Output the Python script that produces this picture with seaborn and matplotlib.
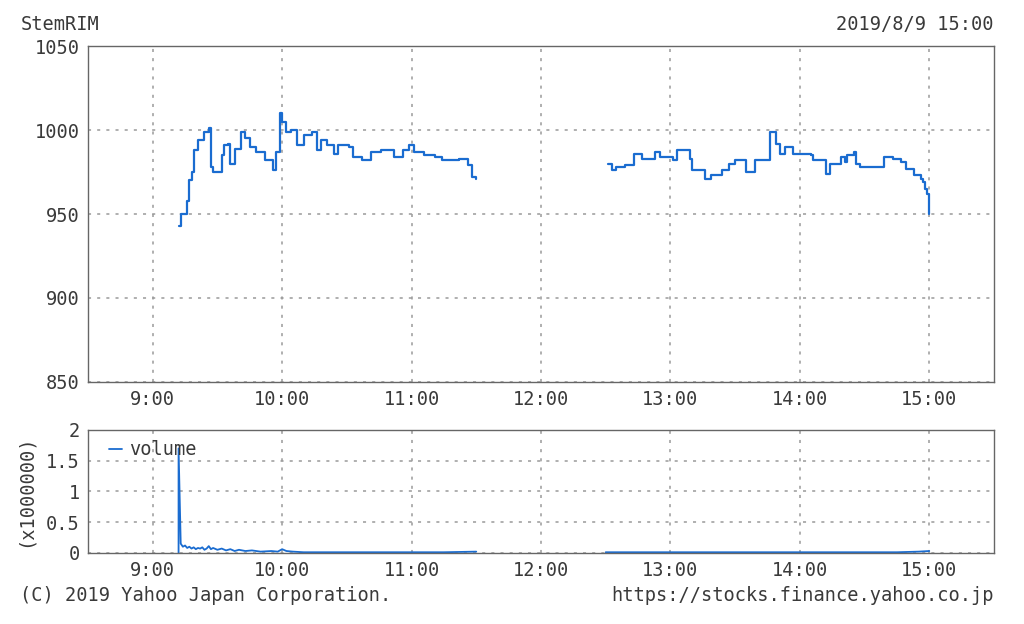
import pandas as pd
import numpy as np
import matplotlib.pyplot as plt
import seaborn as sns

# price, morning session (step chart)
am_times = ['9:12', '9:13', '9:16', '9:17', '9:18', '9:19', '9:21', '9:24', '9:26', '9:27',
            '9:28', '9:32', '9:33', '9:35', '9:36', '9:38', '9:41', '9:43', '9:45', '9:48',
            '9:52', '9:56', '9:57', '9:59', '10:00', '10:02', '10:04', '10:07', '10:10', '10:14',
            '10:16', '10:18', '10:21', '10:24', '10:26', '10:31', '10:33', '10:37', '10:41', '10:46',
            '10:52', '10:56', '10:59', '11:01', '11:06', '11:11', '11:14', '11:22', '11:26', '11:28',
            '11:30']
am_price = [943, 950, 958, 970, 975, 988, 994, 999, 1001, 978,
            975, 985, 991, 992, 980, 989, 999, 995, 990, 987,
            982, 976, 987, 1010, 1005, 999, 1000, 991, 997, 999,
            988, 994, 991, 986, 991, 990, 984, 982, 987, 988,
            984, 988, 991, 987, 985, 984, 982, 983, 979, 972,
            971]

# price, afternoon session
pm_times = ['12:31', '12:33', '12:35', '12:39', '12:43', '12:47', '12:53', '12:55', '13:01', '13:03',
            '13:09', '13:10', '13:14', '13:16', '13:19', '13:24', '13:27', '13:30', '13:35', '13:39',
            '13:46', '13:49', '13:51', '13:53', '13:57', '14:01', '14:05', '14:06', '14:12', '14:14',
            '14:19', '14:21', '14:22', '14:25', '14:26', '14:28', '14:39', '14:43', '14:47', '14:49',
            '14:53', '14:56', '14:57', '14:58', '14:59', '15:00']
pm_price = [980, 976, 978, 979, 986, 983, 987, 984, 982, 988,
            983, 976, 976, 971, 973, 976, 980, 982, 975, 982,
            999, 992, 986, 990, 986, 986, 985, 982, 974, 980,
            984, 981, 985, 987, 980, 978, 984, 983, 981, 977,
            973, 971, 969, 965, 962, 950]

# volume (x1000000)
vol_am_times = ['9:12', '9:12', '9:13', '9:14', '9:15', '9:16', '9:17', '9:18', '9:19', '9:20',
                '9:21', '9:22', '9:23', '9:24', '9:25', '9:26', '9:27', '9:28', '9:30', '9:32',
                '9:34', '9:36', '9:38', '9:40', '9:43', '9:46', '9:50', '9:55', '9:58', '10:00',
                '10:02', '10:05', '10:10', '10:20', '10:30', '10:45', '11:00', '11:15', '11:30']
vol_am = [0.0, 1.70, 0.15, 0.10, 0.12, 0.08, 0.10, 0.07, 0.09, 0.06,
          0.08, 0.07, 0.09, 0.05, 0.07, 0.11, 0.06, 0.08, 0.05, 0.07,
          0.04, 0.06, 0.03, 0.05, 0.03, 0.04, 0.02, 0.03, 0.02, 0.06,
          0.03, 0.02, 0.01, 0.01, 0.01, 0.01, 0.01, 0.01, 0.02]
vol_pm_times = ['12:30', '12:45', '13:00', '13:15', '13:30', '13:45', '14:00', '14:15', '14:30', '14:45',
                '14:55', '15:00']
vol_pm = [0.01, 0.01, 0.01, 0.01, 0.01, 0.01, 0.01, 0.01, 0.01, 0.01,
          0.02, 0.03]

tick_hours = [9, 10, 11, 12, 13, 14, 15]


def to_hours(ts):
    return [int(t.split(':')[0]) + int(t.split(':')[1]) / 60 for t in ts]


sns.set_style('white')
plt.rcParams['font.family'] = ['DejaVu Sans Mono']
txt = '#3a3a3a'
blue = '#1a6cd0'
fs = 13.4
grid_kw = dict(color='#9a9a9a', linestyle=(0, (2, 4)), linewidth=1.1)

fig = plt.figure(figsize=(10.24, 6.24), dpi=100)
ax = fig.add_axes([0.0859, 0.388, 0.8848, 0.538])
ax2 = fig.add_axes([0.0859, 0.114, 0.8848, 0.197])

# price panel
am = pd.DataFrame({'t': to_hours(am_times), 'price': am_price})
pm = pd.DataFrame({'t': to_hours(pm_times), 'price': pm_price})
sns.lineplot(data=am, x='t', y='price', ax=ax, color=blue, linewidth=1.6, drawstyle='steps-post')
sns.lineplot(data=pm, x='t', y='price', ax=ax, color=blue, linewidth=1.6, drawstyle='steps-post')
ax.set_ylim(850, 1050)
ax.set_yticks([850, 900, 950, 1000, 1050])

# volume panel
va = pd.DataFrame({'t': to_hours(vol_am_times), 'v': vol_am})
vp = pd.DataFrame({'t': to_hours(vol_pm_times), 'v': vol_pm})
sns.lineplot(data=va, x='t', y='v', ax=ax2, color=blue, linewidth=1.3, label='volume',
             sort=False, estimator=None)
sns.lineplot(data=vp, x='t', y='v', ax=ax2, color=blue, linewidth=1.3,
             sort=False, estimator=None)
ax2.set_ylim(0, 2)
ax2.set_yticks([0, 0.5, 1, 1.5, 2])
ax2.set_yticklabels(['0', '0.5', '1', '1.5', '2'])
ax2.legend(loc='upper left', bbox_to_anchor=(0.012, 1.0), frameon=False, fontsize=fs,
           handlelength=0.7, handletextpad=0.4, borderaxespad=0.15, labelcolor=txt)

for a in (ax, ax2):
    a.set_xlim(8.5, 15.5)
    a.set_xticks(tick_hours)
    a.set_xticklabels([f'{h}:00' for h in tick_hours])
    a.grid(True, **grid_kw)
    a.set_xlabel('')
    a.set_ylabel('')
    a.tick_params(length=0, labelsize=fs, colors=txt, pad=6)
    for s in a.spines.values():
        s.set_color('#666666')
        s.set_linewidth(1)

fig.text(0.02, 0.96, 'StemRIM', fontsize=fs, color=txt, va='center')
fig.text(0.97, 0.96, '2019/8/9 15:00', fontsize=fs, color=txt, va='center', ha='right')
fig.text(0.02, 0.045, '(C) 2019 Yahoo Japan Corporation.', fontsize=fs, color=txt, va='center')
fig.text(0.97, 0.045, 'https://stocks.finance.yahoo.co.jp', fontsize=fs, color=txt,
         va='center', ha='right')
fig.text(0.025, 0.213, '(x1000000)', fontsize=fs, color=txt, va='center', ha='center',
         rotation=90)

plt.savefig('out.png', dpi=100)
